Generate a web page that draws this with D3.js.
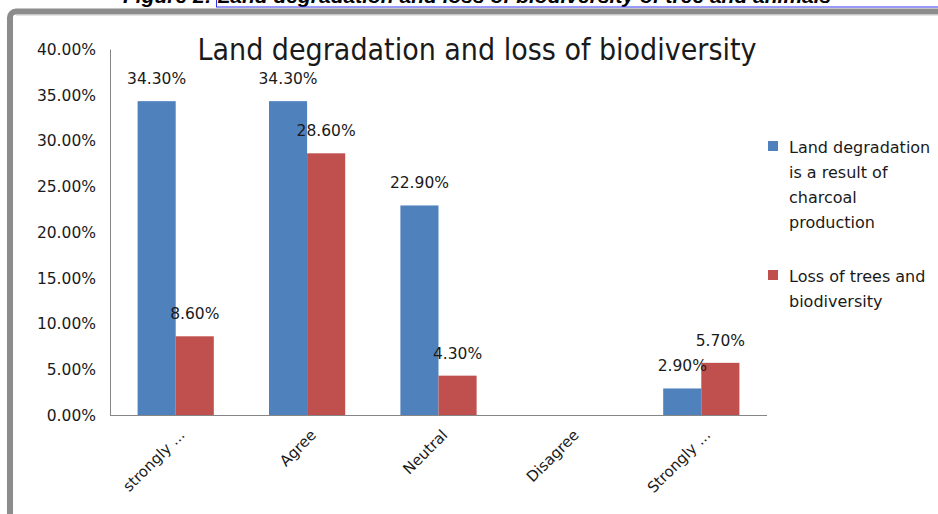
<!DOCTYPE html>
<html>
<head>
<meta charset="utf-8">
<script src="https://cdn.jsdelivr.net/npm/d3@7"></script>
<style>
  body { margin: 0; background: #fff; }
  svg text { font-family: "DejaVu Sans", sans-serif; fill: #1a1a1a; }
</style>
</head>
<body>
<svg id="chart" width="938" height="514"></svg>
<script>
const categories = ["strongly ...", "Agree", "Neutral", "Disagree", "Strongly ..."]
const landDegradation = [34.3, 34.3, 22.9, 0, 2.9]
const lossOfTrees = [8.6, 28.6, 4.3, 0, 5.7]
const yTicks = [0, 5, 10, 15, 20, 25, 30, 35, 40]
const seriesNames = [
    ["Land degradation", "is a result of", "charcoal", "production"],
    ["Loss of trees and", "biodiversity"]
]
const colors = ["#4f81bd", "#c0504d"]

const svg = d3.select("#chart")

// caption above the chart frame (cut off at the top of the page)
svg.append("text")
    .attr("x", 123).attr("y", 3)
    .style("font-family", "'Liberation Sans', Arial, sans-serif")
    .style("font-weight", "bold").style("font-style", "italic")
    .style("font-size", "21px").style("fill", "#000")
    .text("Figure 2: Land degradation and loss of biodiversity of tree and animals")
svg.append("rect")
    .attr("x", 216.5).attr("y", -10).attr("width", 740).attr("height", 17)
    .attr("fill", "none").attr("stroke", "#3333ee").attr("stroke-width", 1)

// gray chart frame
svg.append("rect")
    .attr("x", 10).attr("y", 11.5).attr("width", 960).attr("height", 560)
    .attr("rx", 6)
    .attr("fill", "none").attr("stroke", "#8c8c8c").attr("stroke-width", 6)
svg.append("line")
    .attr("x1", 16).attr("x2", 938).attr("y1", 15).attr("y2", 15)
    .attr("stroke", "#c8c8c8").attr("stroke-width", 1)

const margin = {left: 110, top: 49, right: 767, bottom: 415}

const x0 = d3.scaleBand().domain(categories)
    .range([margin.left, margin.right])
    .paddingInner(0.42).paddingOuter(0.21)
const x1 = d3.scaleBand().domain([0, 1]).range([0, x0.bandwidth()])
const y = d3.scaleLinear().domain([0, 40]).range([margin.bottom, margin.top])

// y axis
const yAxis = d3.axisLeft(y).tickValues(yTicks)
    .tickFormat(d => d3.format(".2f")(d) + "%")
    .tickSize(0).tickPadding(14)
const gy = svg.append("g").attr("transform", `translate(${margin.left},0)`).call(yAxis)
gy.select(".domain").attr("stroke", "#868686")
gy.selectAll("text").style("font-size", "15.5px").style("fill", "#1a1a1a")
    .attr("dy", "0.35em")

// x axis line
svg.append("line")
    .attr("x1", margin.left).attr("x2", margin.right)
    .attr("y1", margin.bottom + 0.5).attr("y2", margin.bottom + 0.5)
    .attr("stroke", "#868686")

const series = [landDegradation, lossOfTrees]
const groups = svg.append("g").selectAll("g")
    .data(categories).join("g")
    .attr("transform", d => `translate(${x0(d)},0)`)

groups.selectAll("rect")
    .data((d, i) => series.map((s, k) => ({k: k, v: s[i]})))
    .join("rect")
    .attr("x", d => x1(d.k))
    .attr("width", x1.bandwidth())
    .attr("y", d => y(d.v))
    .attr("height", d => y(0) - y(d.v))
    .attr("fill", d => colors[d.k])

groups.selectAll("text.lbl")
    .data((d, i) => series.map((s, k) => ({k: k, v: s[i]})).filter(d => d.v > 0))
    .join("text")
    .classed("lbl", true)
    .attr("x", d => x1(d.k) + x1.bandwidth() / 2)
    .attr("y", d => y(d.v) - 17)
    .attr("text-anchor", "middle")
    .style("font-size", "15.5px")
    .text(d => d3.format(".2f")(d.v) + "%")

// category labels, rotated
svg.append("g").selectAll("text")
    .data(categories).join("text")
    .attr("text-anchor", "end")
    .attr("transform", d => `translate(${x0(d) + x0.bandwidth() / 2 + 10},436) rotate(-45)`)
    .style("font-size", "15px")
    .text(d => d)

// title
svg.append("text")
    .attr("x", 477).attr("y", 60)
    .attr("text-anchor", "middle")
    .style("font-family", "'DejaVu Sans Condensed', 'DejaVu Sans', sans-serif")
    .style("font-size", "30px")
    .text("Land degradation and loss of biodiversity")

// legend
const legend = svg.append("g").selectAll("g")
    .data(seriesNames).join("g")
    .attr("transform", (d, i) => `translate(768,${i == 0 ? 141 : 270})`)
legend.append("rect")
    .attr("width", 10).attr("height", 10)
    .attr("fill", (d, i) => colors[i])
legend.selectAll("text")
    .data(d => d).join("text")
    .attr("x", 21)
    .attr("y", (d, j) => 12 + j * 25)
    .style("font-size", "16px")
    .text(d => d)
</script>
</body>
</html>
